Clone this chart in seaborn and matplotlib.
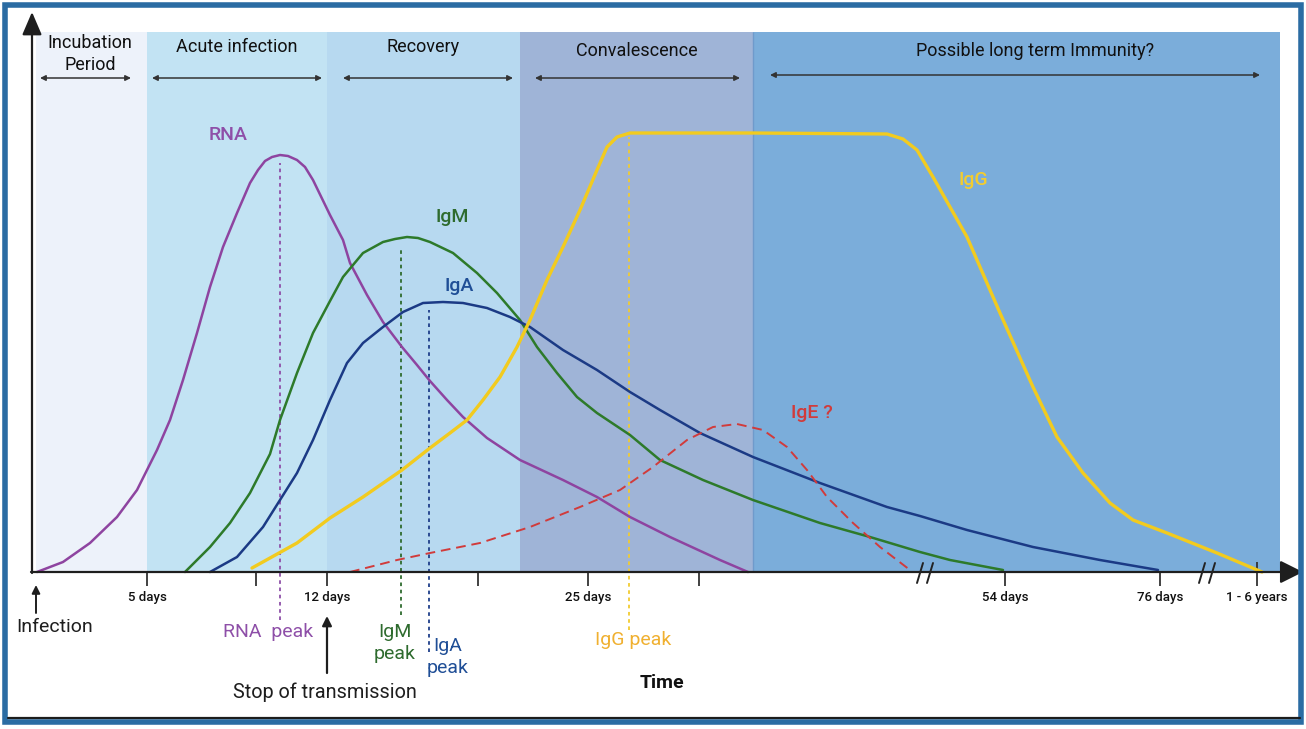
import matplotlib
matplotlib.use("Agg")
import matplotlib.pyplot as plt
from matplotlib.patches import Rectangle
import seaborn as sns
import numpy as np

# phases of the infection (x = position along the time axis, height = level)
phase_names = ["Incubation\nPeriod", "Acute infection", "Recovery", "Convalescence",
               "Possible long term Immunity?"]
phase_edges = [36, 147, 327, 520, 753, 1280]
phase_colors = ["#edf2fa", "#c2e3f3", "#b7d9f0", "#9fb4d7", "#7badda"]
phase_height = 540

# time axis
tick_pos = [147, 256, 327, 478, 588, 699, 1005, 1160, 1257]
tick_labels = ["5 days", "", "12 days", "", "25 days", "", "54 days", "76 days", "1 - 6 years"]
break_pos = [925, 1207]

# curves: x position, level above the baseline
rna_x = [37, 63, 90, 117, 137, 147, 157, 170, 183, 197, 210, 223, 237, 250, 258, 265,
         272, 280, 288, 297, 305, 313, 330, 343, 350, 367, 383, 402, 417, 430, 447,
         463, 487, 520, 563, 597, 630, 670, 720, 748]
rna_y = [0, 10, 29, 55, 82, 102, 122, 152, 192, 239, 285, 325, 359, 389, 402, 411,
         415, 417, 416, 412, 405, 392, 357, 332, 309, 277, 250, 225, 207, 191, 172,
         155, 134, 112, 92, 75, 55, 35, 12, 0]

igm_x = [185, 210, 230, 250, 270, 280, 297, 313, 330, 343, 363, 383, 395, 407, 418,
         430, 453, 477, 497, 520, 537, 557, 577, 597, 630, 660, 703, 753, 820, 870,
         920, 950, 1003]
igm_y = [0, 25, 49, 79, 118, 152, 199, 239, 271, 295, 319, 330, 333, 335, 334,
         330, 319, 299, 279, 252, 225, 199, 175, 159, 137, 112, 92, 72, 49, 35,
         20, 12, 2]

iga_x = [210, 237, 263, 280, 297, 313, 330, 347, 363, 383, 403, 423, 443, 463, 487,
         510, 530, 563, 597, 630, 660, 700, 753, 820, 887, 920, 967, 1033, 1100, 1158]
iga_y = [0, 15, 45, 72, 99, 132, 172, 209, 229, 245, 260, 269, 270, 269, 264,
         255, 245, 222, 202, 180, 162, 139, 115, 89, 65, 56, 42, 25, 12, 2]

igg_x = [252, 297, 330, 363, 402, 430, 450, 467, 483, 500, 517, 530, 547, 563, 580,
         597, 607, 617, 630, 753, 887, 903, 917, 933, 967, 1000, 1033, 1057, 1083,
         1110, 1133, 1167, 1217, 1262]
igg_y = [4, 29, 54, 75, 102, 124, 139, 152, 172, 195, 225, 252, 292, 325, 362,
         402, 425, 435, 439, 439, 438, 433, 422, 395, 335, 259, 185, 135, 99,
         69, 52, 39, 19, 0]

ige_x = [350, 397, 430, 480, 530, 580, 620, 653, 687, 713, 737, 763, 787, 807, 827,
         853, 880, 910]
ige_y = [0, 12, 19, 29, 45, 65, 82, 105, 132, 145, 148, 142, 125, 102, 75,
         49, 25, 2]

# peak markers: x, top level, bottom level
peak_x = [280, 401, 429, 629]
peak_top = [409, 324, 262, 435]
peak_bottom = [-48, -43, -80, -58]
peak_colors = ["#8e4fa8", "#2e6b2e", "#1f3f8a", "#f2cc30"]

sns.set_theme(style="white")
plt.rcParams["font.family"] = ["Roboto", "DejaVu Sans"]

fig = plt.figure(figsize=(13.06, 7.29), dpi=100)
ax = fig.add_axes([0, 0, 1, 1])
ax.set_xlim(0, 1306)
ax.set_ylim(-157, 572)
ax.set_facecolor("white")

# phase bands
ax.bar(phase_edges[:-1], phase_height, width=np.diff(phase_edges), align="edge",
       color=phase_colors, linewidth=0, zorder=0)
ax.vlines(phase_edges[4], 0, phase_height, color="#6f9acb", lw=1, zorder=0.5)

header_x = [90, 237, 423, 637, 1035]
header_y = [518, 525, 525, 521, 521]
for name, hx, hy in zip(phase_names, header_x, header_y):
    ax.text(hx, hy, name, ha="center", va="center", fontsize=13, color="#111111",
            linespacing=1.25)

arrow_spans = [(40, 131), (152, 322), (343, 513), (535, 740), (770, 1260)]
arrow_y = [494, 494, 494, 494, 497]
for (a, b), yy in zip(arrow_spans, arrow_y):
    ax.annotate("", xy=(b, yy), xytext=(a, yy),
                arrowprops=dict(arrowstyle="<|-|>", color="#333333", lw=1.1,
                                mutation_scale=8, shrinkA=0, shrinkB=0))

# curves
curves = [
    (rna_x, rna_y, "#8e44a0", 1.8, "-"),
    (igm_x, igm_y, "#2d7a2a", 1.8, "-"),
    (iga_x, iga_y, "#1b3a85", 1.8, "-"),
    (igg_x, igg_y, "#f2cb1f", 2.4, "-"),
    (ige_x, ige_y, "#d13b3b", 1.4, (0, (5, 3))),
]
for xs, ys, col, lw, ls in curves:
    sns.lineplot(x=xs, y=ys, color=col, linewidth=lw, linestyle=ls, estimator=None,
                 sort=False, ax=ax, zorder=3, solid_capstyle="round",
                 solid_joinstyle="round")

for px, pt, pb, pc in zip(peak_x, peak_top, peak_bottom, peak_colors):
    ax.plot([px, px], [pb, pt], color=pc, lw=1.3, linestyle=(0, (2, 2)), zorder=2,
            clip_on=False)

curve_labels = [("RNA", 228, 437, "#8e4fa8"), ("IgM", 452, 355, "#2e6b2e"),
                ("IgA", 459, 286, "#1f4e96"), ("IgG", 973, 392, "#f2cc30"),
                ("IgE ?", 812, 159, "#d13b3b")]
for txt, tx, ty, tc in curve_labels:
    ax.text(tx, ty, txt, ha="center", va="center", fontsize=14, color=tc, weight="medium")

# axes with arrow heads
ax.annotate("", xy=(32, 560), xytext=(32, -1),
            arrowprops=dict(arrowstyle="-|>,head_length=0.7,head_width=0.3", color="#1e1e1e",
                            lw=1.6, mutation_scale=20, shrinkA=0, shrinkB=0))
ax.annotate("", xy=(1303, 0), xytext=(31, 0),
            arrowprops=dict(arrowstyle="-|>,head_length=0.7,head_width=0.35", color="#1e1e1e",
                            lw=1.6, mutation_scale=20, shrinkA=0, shrinkB=0))

for s in ax.spines.values():
    s.set_visible(False)
ax.spines["bottom"].set_position(("data", 0))
ax.set_xticks(tick_pos, tick_labels)
ax.set_yticks([])
ax.grid(False)
ax.tick_params(axis="x", bottom=True, direction="out", length=10, width=1.3,
               color="#333333", pad=4, labelsize=9.5, labelcolor="#111111")
for lab in ax.get_xticklabels():
    lab.set_fontweight("medium")
ax.vlines(tick_pos[-1], 0, 10, color="#333333", lw=1.3)

for b in break_pos:
    for dx in (-5, 5):
        ax.plot([b + dx - 3, b + dx + 3], [-11, 9], color="#222222", lw=1.4, zorder=4)

# annotations below the axis
ax.annotate("", xy=(36, -13), xytext=(36, -41),
            arrowprops=dict(arrowstyle="-|>", color="#1e1e1e", lw=1.4, mutation_scale=12,
                            shrinkA=0, shrinkB=0))
ax.annotate("", xy=(327, -44), xytext=(327, -101),
            arrowprops=dict(arrowstyle="-|>", color="#1e1e1e", lw=1.6, mutation_scale=14,
                            shrinkA=0, shrinkB=0))
ax.text(55, -55, "Infection", ha="center", va="center", fontsize=14, color="#1e1e1e")
ax.text(268, -60, "RNA  peak", ha="center", va="center", fontsize=14, color="#8e4fa8")
ax.text(325, -120, "Stop of transmission", ha="center", va="center", fontsize=14.3,
        color="#1e1e1e")
ax.text(395, -71, "IgM\npeak", ha="center", va="center", fontsize=14, color="#2e6b2e",
        linespacing=1.35)
ax.text(448, -85, "IgA\npeak", ha="center", va="center", fontsize=14, color="#1f4e96",
        linespacing=1.35)
ax.text(633, -68, "IgG peak", ha="center", va="center", fontsize=14, color="#f0b030")
ax.text(662, -111, "Time", ha="center", va="center", fontsize=14, color="#111111",
        weight="bold")

# frame
ax.add_patch(Rectangle((5, -150), 1296, 717, fill=False, edgecolor="#2b6ca3", lw=4,
                       clip_on=False, zorder=5))
ax.plot([8, 1300], [-146, -146], color="#1c1c1c", lw=1.6, zorder=5)

fig.savefig("out.png", dpi=100)
